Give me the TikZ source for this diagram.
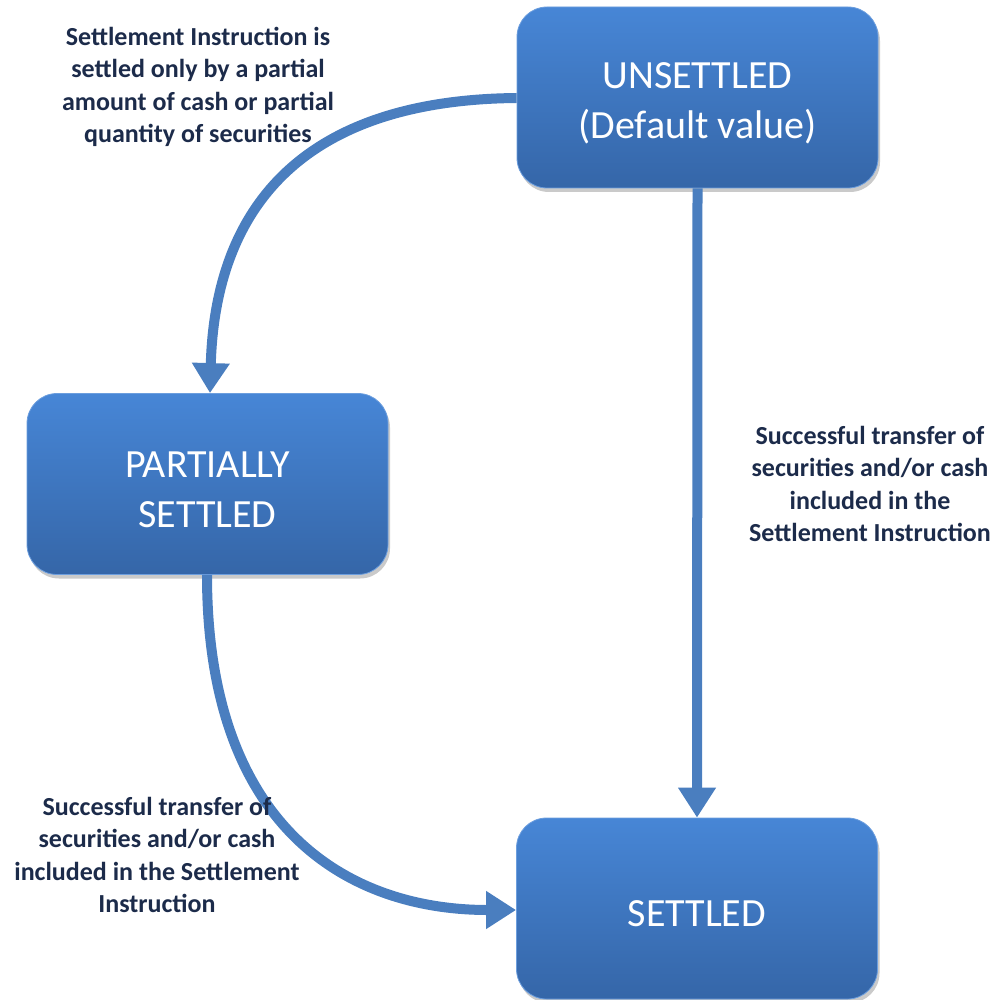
\documentclass[tikz,border=0pt]{standalone}
\usepackage{fontspec}
\setmainfont{Carlito}
\usetikzlibrary{arrows.meta,shadows}
\definecolor{boxtop}{HTML}{4786D6}
\definecolor{boxbot}{HTML}{3566A8}
\definecolor{arrowblue}{HTML}{4A7EBF}
\definecolor{labelnavy}{HTML}{1C2B4A}
\newcommand{\lowerstrut}{\rule{0pt}{37pt}}
\tikzset{
  statebox/.style={rounded corners=30pt, top color=boxtop, bottom color=boxbot,
    draw=boxtop!80!white, line width=0.8pt, minimum width=361pt, minimum height=181pt,
    text=white, align=center, font=\fontsize{40}{50}\selectfont,
    drop shadow={shadow xshift=2pt, shadow yshift=-4pt, opacity=0.35, fill=black!60}},
  flow/.style={draw=arrowblue, line width=10pt, -{Triangle[width=36pt,length=30pt]}},
  note/.style={text=labelnavy, align=center, font=\bfseries\fontsize{26}{32.5}\selectfont}
}
\begin{document}
\begin{tikzpicture}[x=1pt,y=-1pt]
\useasboundingbox (0,0) rectangle (997,1000);
\node[statebox] (uns) at (697.5,97.5) {\lowerstrut UNSETTLED\\(Default value)};
\node[statebox] (par) at (207.5,484) {\lowerstrut PARTIALLY\\SETTLED};
\node[statebox] (set) at (697,908.5) {\lowerstrut SETTLED};
\draw[flow] (uns.west |- 0,98) .. controls (300,100) and (215,210) .. (par.north -| 210,0);
\draw[flow] (par.south -| 207,0) .. controls (207,830) and (350,910) .. (set.west |- 0,910);
\draw[flow] (uns.south) -- (set.north);
\node[note] (n1) at (198,87) {Settlement Instruction is\\settled only by a partial\\amount of cash or partial\\quantity of securities};
\node[note] (n2) at (870,484) {Successful transfer of\\securities and/or cash\\included in the\\Settlement Instruction};
\node[note] (n3) at (157,855) {Successful transfer of\\securities and/or cash\\included in the Settlement\\Instruction};
\end{tikzpicture}
\end{document}
